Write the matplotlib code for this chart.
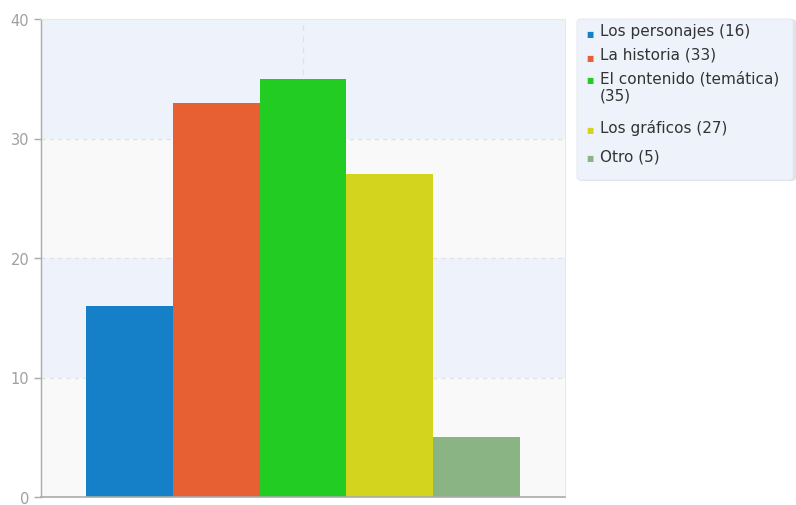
import matplotlib
matplotlib.use("Agg")
import matplotlib.pyplot as plt
from matplotlib.patches import FancyBboxPatch

categories = ["Los personajes", "La historia", "El contenido (temática)", "Los gráficos", "Otro"]
values = [16, 33, 35, 27, 5]
colors = ["#1580c8", "#e66034", "#22cc22", "#d3d41e", "#8ab483"]
yticks = [0, 10, 20, 30, 40]

fig = plt.figure(figsize=(7.96, 5.06), dpi=100)
ax = fig.add_axes([41 / 796, 8 / 506, 524 / 796, 478 / 506])

# alternating horizontal bands
for i, (lo, hi) in enumerate(zip(yticks[:-1], yticks[1:])):
    ax.axhspan(lo, hi, color="#f9f9f9" if i % 2 == 0 else "#eef3fb", zorder=0, lw=0)
for t in yticks[1:-1]:
    ax.axhline(t, color="#e2e2e2", lw=1, ls=(0, (3, 3)), zorder=1)
ax.axvline(0, color="#e2e2e2", lw=1, ls=(0, (4, 4)), zorder=1)

n = len(values)
bw = 0.166
offsets = [(i - (n - 1) / 2) * bw for i in range(n)]
for off, v, c in zip(offsets, values, colors):
    ax.bar(off, v, width=bw, color=c, zorder=2, lw=0)

ax.set_xlim(-0.5, 0.5)
ax.set_ylim(0, 40)
ax.set_yticks(yticks)
ax.set_xticks([])
ax.tick_params(axis="y", colors="#aaaaaa", labelcolor="#a0a0a0", labelsize=10.5, length=5, width=1, direction="out")
for s in ["top", "right"]:
    ax.spines[s].set_color("#e8e8e8")
ax.spines["left"].set_color("#aaaaaa")
ax.spines["bottom"].set_color("#aaaaaa")
ax.spines["left"].set_linewidth(1)
ax.spines["bottom"].set_linewidth(1.2)

# legend panel
fig.patches.append(FancyBboxPatch((578 / 796, 1 - 182 / 506), 218 / 796, 162 / 506,
                                  boxstyle="round,pad=0,rounding_size=0.006",
                                  transform=fig.transFigure, facecolor="#dfe3ea",
                                  edgecolor="none", zorder=0))
fig.patches.append(FancyBboxPatch((577 / 796, 1 - 181 / 506), 216 / 796, 161 / 506,
                                  boxstyle="round,pad=0,rounding_size=0.006",
                                  transform=fig.transFigure, facecolor="#eef3fb",
                                  edgecolor="#e6eaf0", lw=0.8, zorder=1))
labels = ["Los personajes (16)", "La historia (33)", "El contenido (temática)\n(35)",
          "Los gráficos (27)", "Otro (5)"]
ypix = [34, 58, 81, 130, 159]
for lab, c, yp in zip(labels, colors, ypix):
    fig.text(590 / 796, 1 - yp / 506, "\u25a0", color=c, fontsize=5.5, va="center", ha="center")
    fig.text(600 / 796, 1 - (yp - 10) / 506, lab, color="#333333", fontsize=11,
             va="top", ha="left", linespacing=1.2)

fig.savefig("out.png", dpi=100)
